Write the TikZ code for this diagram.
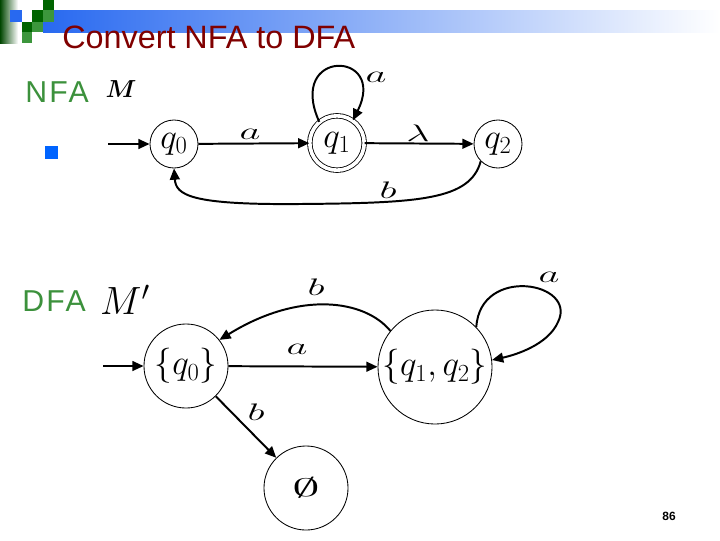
\RequirePackage{fix-cm}
\documentclass[tikz,border=0pt]{standalone}
\usepackage{amssymb,amsmath,bm,graphicx}
\usepackage{fontspec}
\newfontfamily\arialfont{Liberation Sans}
\newfontfamily\hdfont[LetterSpace=8]{Liberation Sans}
\usetikzlibrary{positioning}
\usetikzlibrary{arrows.meta}
\definecolor{titlered}{RGB}{128,0,0}
\definecolor{hdgreen}{RGB}{60,145,60}
\definecolor{barblue}{RGB}{40,105,240}
\definecolor{dkgreen}{RGB}{0,100,0}
\definecolor{mdgreen}{RGB}{60,150,60}
\definecolor{bullblue}{RGB}{0,100,255}
\newcommand{\wlab}[1]{\scalebox{1.7}[1]{$#1$}}
\tikzset{state/.style = {circle, draw, line width=0.6pt, inner sep=0pt, font=\fontsize{25}{27}\selectfont}}
\tikzset{accept/.style = {state, double, double distance=2.6pt}}
\tikzset{trans/.style = {line width=1.4pt, -{Triangle[length=8pt,width=7pt]}}}
\tikzset{elabel/.style = {font=\fontsize{17}{19}\selectfont, inner sep=0pt}}
\tikzset{header/.style = {anchor=base west, inner sep=0pt, text=hdgreen, font=\hdfont\fontsize{21.5}{23}\selectfont}}

\begin{document}
\begin{tikzpicture}[x=0.025cm, y=-0.025cm]
  \useasboundingbox (0,0) rectangle (720,540);
  % banner
  \shade[left color=barblue, middle color=barblue!45!white, right color=white] (43,10) rectangle (720,32);
  \shade[left color=dkgreen!70!black, right color=white] (0,0) rectangle (18,43);
  \fill[barblue] (10,10) rectangle (22,22);
  \fill[dkgreen] (32,10) rectangle (43,22);
  \fill[dkgreen] (43,0) rectangle (54,10);
  \fill[mdgreen] (43,10) rectangle (54,22);
  \fill[dkgreen] (22,22) rectangle (32,32);
  \fill[mdgreen] (32,22) rectangle (43,32);
  \fill[mdgreen] (22,32) rectangle (32,43);
  \node[anchor=base west, inner sep=0pt, text=titlered, font=\arialfont\fontsize{23}{25}\selectfont] (title) at (62,48) {Convert NFA to DFA};

  % NFA M
  \node[header] (nfahd) at (25,102) {NFA};
  \node[font=\fontsize{17.5}{19}\selectfont] (nfaM) at (121,89) {$\bm{M}$};
  \fill[bullblue] (45,146) rectangle (58,159);
  \node[state, minimum size=1.2cm] (q0) at (174,144) {$q_0$};
  \node[accept, minimum size=1.36cm] (q1) at (337,143) {$q_1$};
  \node[state, minimum size=1.2cm] (q2) at (498,144) {$q_2$};
  \coordinate (q0in) at (108,144);
  \draw[trans] (q0in) -- (q0);
  \draw[trans] (q0) -- (q1);
  \draw[trans] (q1) -- (q2);
  \draw[trans] (q1.130) .. controls (286,48) and (388,50) .. (q1.55);
  \draw[trans] (q2.225) .. controls (470,200) and (420,203) .. (300,204) .. controls (190,205) and (176,195) .. (q0.south);
  \node[elabel] (la1) at (250,134) {\wlab{a}};
  \node[elabel] (la2) at (376,77) {\wlab{a}};
  \node[elabel] (llam) at (418,133) {\wlab{\lambda}};
  \node[elabel] (lb1) at (388,190) {\wlab{b}};

  % DFA M'
  \node[header] (dfahd) at (22,311) {DFA};
  \node[font=\fontsize{28}{30}\selectfont] (dfaM) at (125,300) {$M'$};
  \node[state, minimum size=2.1cm] (s0) at (186,366) {$\{q_0\}$};
  \node[state, minimum size=2.85cm] (s12) at (435,367) {$\{q_1,q_2\}$};
  \node[state, minimum size=2.1cm, font=\fontsize{18}{20}\selectfont] (se) at (306,488) {\scalebox{2.2}[1]{$\emptyset$}};
  \coordinate (s0in) at (103,366);
  \draw[trans] (s0in) -- (s0);
  \draw[trans] (s0) -- (s12);
  \draw[trans] (s12.141) .. controls (365,300) and (300,290) .. (s0.38);
  \draw[trans] (s12.44) .. controls (480,265) and (578,282) .. (558,322) .. controls (548,345) and (515,355) .. (s12.7);
  \draw[trans] (s0) -- (se);
  \node[elabel] (la3) at (297,349) {\wlab{a}};
  \node[elabel] (lb2) at (316,287) {\wlab{b}};
  \node[elabel] (la4) at (549,277) {\wlab{a}};
  \node[elabel] (lb3) at (256,412) {\wlab{b}};

  \node[inner sep=0pt, font=\arialfont\bfseries\fontsize{8.5}{10}\selectfont] (pgno) at (669,516) {86};
\end{tikzpicture}
\end{document}
